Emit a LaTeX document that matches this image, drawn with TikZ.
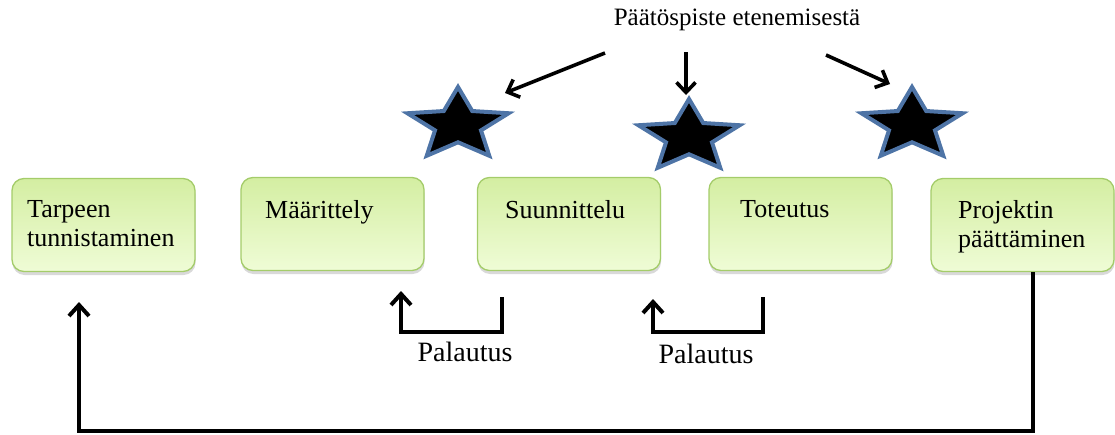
\documentclass[tikz,border=0pt]{standalone}
\usepackage{fontspec}
\setmainfont{Liberation Serif}
\usetikzlibrary{shapes.geometric,arrows.meta,shadows}
\definecolor{boxline}{HTML}{A4CC6A}
\definecolor{boxtop}{HTML}{D4EEA2}
\definecolor{boxbot}{HTML}{EFFCD6}
\definecolor{starline}{HTML}{4E74A6}
\begin{document}
\begin{tikzpicture}[x=1pt, y=-1pt,
    phase/.style={draw=boxline, line width=1.3pt, rounded corners=12pt,
      top color=boxtop, bottom color=boxbot, minimum width=183pt, minimum height=93pt,
      drop shadow={shadow xshift=0.5pt, shadow yshift=-3.5pt, opacity=0.3}},
    phasetext/.style={anchor=north west, inner sep=0pt, align=left,
      font=\fontsize{26}{29}\selectfont},
    tahti/.style={star, star points=5, star point ratio=2.2, minimum size=76pt,
      inner sep=0pt, xscale=1.4, fill=black, draw=starline, line width=4pt},
    paluu/.style={line width=4pt, -{Straight Barb[length=11pt, width=20pt, line width=4pt]}},
    osoitin/.style={line width=3.6pt, -{Straight Barb[length=10pt, width=19pt, line width=3.6pt]}}]
  \useasboundingbox (0,0) rectangle (1115,434);
  % vaiheet
  \node[phase] (tarve) at (103.5,225) {};
  \node[phase] (maar) at (332.5,224) {};
  \node[phase] (suun) at (569,224) {};
  \node[phase] (tote) at (800.5,224) {};
  \node[phase] (loppu) at (1022.5,225) {};
  \node[phasetext] (tarveT) at (27,200) {Tarpeen\\tunnistaminen};
  \node[phasetext] (maarT) at (265,200) {Määrittely};
  \node[phasetext] (suunT) at (505,200) {Suunnittelu};
  \node[phasetext] (toteT) at (740,200) {Toteutus};
  \node[phasetext] (loppuT) at (958,200) {Projektin\\päättäminen};
  % paatospisteet
  \node[tahti] (s1) at (458,125) {};
  \node[tahti] (s2) at (689,137) {};
  \node[tahti] (s3) at (912,125) {};
  \node[font=\fontsize{25}{29}\selectfont, inner sep=0pt] (otsikko) at (737,20) {Päätöspiste etenemisestä};
  \coordinate (o1) at (605,53);
  \coordinate (o2) at (686,52);
  \coordinate (o3) at (826,55);
  \coordinate (k1) at (505,93);
  \coordinate (k2) at (686,95);
  \coordinate (k3) at (890,84);
  \draw[osoitin] (o1) -- (k1);
  \draw[osoitin] (o2) -- (k2);
  \draw[osoitin] (o3) -- (k3);
  % palautukset
  \coordinate (pa1) at (502,297);
  \coordinate (pb1) at (401,291);
  \coordinate (pa2) at (763,297);
  \coordinate (pb2) at (653,299);
  \draw[paluu] (pa1) -- ++(0,35) -| (pb1);
  \draw[paluu] (pa2) -- ++(0,35) -| (pb2);
  \node[font=\fontsize{28}{30}\selectfont, inner sep=0pt] (pal1) at (465,352) {Palautus};
  \node[font=\fontsize{28}{30}\selectfont, inner sep=0pt] (pal2) at (706,354) {Palautus};
  % takaisin alkuun
  \coordinate (alku) at (79,302);
  \draw[paluu] ([xshift=10.5pt]loppu.south) -- (1033,431) -| (alku);
\end{tikzpicture}
\end{document}
